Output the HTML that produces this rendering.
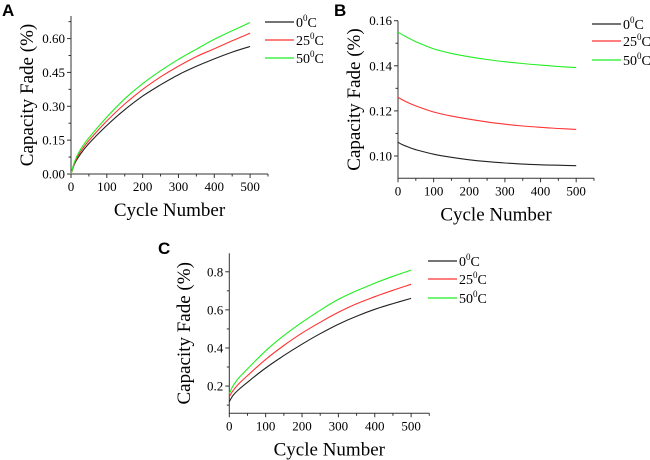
<!DOCTYPE html>
<html><head><meta charset="utf-8"><style>
body{margin:0;background:#fff;}
svg{display:block;font-family:"Liberation Serif",serif;}
svg text{font-family:"Liberation Serif",serif;}
svg text.pl{font-family:"Liberation Sans",sans-serif;font-weight:bold;font-size:17px;}
</style></head><body>
<svg id="fig" width="650" height="460" viewBox="0 0 650 460" font-family="Liberation Serif, serif"></svg>
<script>
const cycles = [0,10,25,50,100,150,200,250,300,350,400,450,500];
const aBlack = [0,0.045,0.085,0.135,0.215,0.285,0.345,0.395,0.44,0.477,0.51,0.54,0.565];
const aRed   = [0,0.05,0.095,0.148,0.235,0.31,0.375,0.43,0.478,0.52,0.555,0.59,0.624];
const aGreen = [0,0.055,0.105,0.16,0.252,0.333,0.40,0.457,0.508,0.553,0.597,0.635,0.671];
const cyclesB = [0,10,25,50,100,150,200,250,300,350,400,450,500];
const bBlack = [0.1061,0.1052,0.1042,0.1028,0.1008,0.0994,0.0983,0.0975,0.0969,0.0964,0.0961,0.0959,0.0957];
const bRed   = [0.1260,0.1251,0.1239,0.1222,0.1195,0.1177,0.1163,0.1151,0.1141,0.1133,0.1127,0.1122,0.1118];
const bGreen = [0.1549,0.1540,0.1527,0.1507,0.1475,0.1455,0.1440,0.1428,0.1418,0.1410,0.1403,0.1397,0.1392];
const cBlack = [0.118,0.15,0.18,0.22,0.295,0.36,0.42,0.475,0.525,0.567,0.603,0.633,0.660];
const cRed   = [0.144,0.175,0.21,0.255,0.34,0.413,0.478,0.535,0.587,0.632,0.669,0.703,0.734];
const cGreen = [0.16,0.20,0.24,0.29,0.385,0.465,0.535,0.598,0.655,0.70,0.74,0.776,0.809];
const xTicks = [0,100,200,300,400,500];
const aTicks = [0,0.15,0.30,0.45,0.60];
const bTicks = [0.10,0.12,0.14,0.16];
const cTicks = [0.2,0.4,0.6,0.8];
const legendLabels = ['0','25','50'];
const colors = ['#222','#ff3333','#22ee22'];

const NS='http://www.w3.org/2000/svg';
const svg=document.getElementById('fig');
function mk(tag,attrs,parent,text){const e=document.createElementNS(NS,tag);for(const k in attrs)e.setAttribute(k,attrs[k]);if(text!==undefined)e.textContent=text;(parent||svg).appendChild(e);return e;}
function smooth(pts){
  let d=`M${pts[0][0].toFixed(1)} ${pts[0][1].toFixed(1)}`;
  for(let i=0;i<pts.length-1;i++){
    const p0=pts[Math.max(i-1,0)],p1=pts[i],p2=pts[i+1],p3=pts[Math.min(i+2,pts.length-1)];
    const c1=[p1[0]+(p2[0]-p0[0])/6,p1[1]+(p2[1]-p0[1])/6];
    const c2=[p2[0]-(p3[0]-p1[0])/6,p2[1]-(p3[1]-p1[1])/6];
    d+=` C${c1[0].toFixed(1)} ${c1[1].toFixed(1)} ${c2[0].toFixed(1)} ${c2[1].toFixed(1)} ${p2[0].toFixed(1)} ${p2[1].toFixed(1)}`;
  }
  return d;
}

function panel(o){
  const g=mk('g',{});
  
  
  const sx=v=>o.x0+(v-0)/(o.xmax)*(o.x1-o.x0);
  const sy=v=>o.yb-(v-o.ymin)/(o.ymax-o.ymin)*(o.yb-o.yt);
  const pl=mk('text',{x:o.lx,y:o.ly,class:'pl'},g,o.id);
  
  
  const ax=mk('path',{d:`M${o.x0} ${o.yt}V${o.yb}H${o.x1}`,stroke:'#333',fill:'none','stroke-width':1},g);
  
  
  for(let v=0;v<=o.xmax;v+=50){
    const X=sx(v);const major=v%100===0;
    mk('line',{x1:X,x2:X,y1:o.yb,y2:o.yb+(major?4:2.5),stroke:'#333'},g);
  }
  xTicks.forEach(v=>{
    const t=mk('text',{x:sx(v),y:o.yb+17,'text-anchor':'middle','font-size':13},g,String(v));
    
    
  });
  const st=o.ticks[1]-o.ticks[0];
  o.ticks.forEach((v,i)=>{
    const Y=sy(v);
    mk('line',{x1:o.x0,x2:o.x0-4,y1:Y,y2:Y,stroke:'#333'},g);
    const m=v+st/2;
    if(m<=o.ymax){const Ym=sy(m);mk('line',{x1:o.x0,x2:o.x0-2.5,y1:Ym,y2:Ym,stroke:'#333'},g);}
    const mb=v-st/2; if(i===0&&mb>=o.ymin){const Yb=sy(mb);mk('line',{x1:o.x0,x2:o.x0-2.5,y1:Yb,y2:Yb,stroke:'#333'},g);}
    const t=mk('text',{x:o.x0-6,y:Y+4.5,'text-anchor':'end','font-size':13},g,v.toFixed(o.dec));
    
    
  });
  const xt=mk('text',{x:(o.x0+o.x1)/2,y:o.yb+42,'text-anchor':'middle','font-size':19},g,'Cycle Number');
  
  
  const ycx=o.ytx, ycy=(o.yt+o.yb)/2;
  const yt=mk('text',{x:ycx,y:ycy,'text-anchor':'middle','font-size':19,transform:`rotate(-90 ${ycx} ${ycy})`},g,'Capacity Fade (%)');
  
  
  o.series.forEach((s,i)=>{
    const pts=o.xs.map((c,j)=>[sx(c),sy(s[j])]);
    const p=mk('path',{d:smooth(pts),fill:'none',stroke:colors[i],'stroke-width':1.1},g);
    
    
    const ly=o.legY[i];
    const lg=mk('g',{},g);
    
    
    mk('line',{x1:o.legX,x2:o.legX+29,y1:ly,y2:ly,stroke:colors[i],'stroke-width':1.2},lg);
    const t=mk('text',{x:o.legX+31,y:ly+5,'font-size':14},lg);
    t.appendChild(document.createTextNode(legendLabels[i]));
    mk('tspan',{dy:-6,'font-size':9},t,'0');
    mk('tspan',{dy:6},t,'C');
  });
}
panel({id:'A',lx:2,ly:16,x0:71,x1:268,xmax:550,yt:16,yb:174,ymin:0,ymax:0.70,ticks:aTicks,dec:2,ytx:33,xs:cycles,series:[aBlack,aRed,aGreen],legX:265,legY:[22,40,58]});
panel({id:'B',lx:334,ly:16,x0:398,x1:594,xmax:550,yt:20.7,yb:178.3,ymin:0.0901,ymax:0.16,ticks:bTicks,dec:2,ytx:360,xs:cyclesB,series:[bBlack,bRed,bGreen],legX:592,legY:[24,41,60]});
panel({id:'C',lx:158,ly:254,x0:229.3,x1:429.3,xmax:550,yt:253.3,yb:413.3,ymin:0.057,ymax:0.897,ticks:cTicks,dec:1,ytx:190,xs:cycles,series:[cBlack,cRed,cGreen],legX:428,legY:[261,279,298]});
</script>
</body></html>
